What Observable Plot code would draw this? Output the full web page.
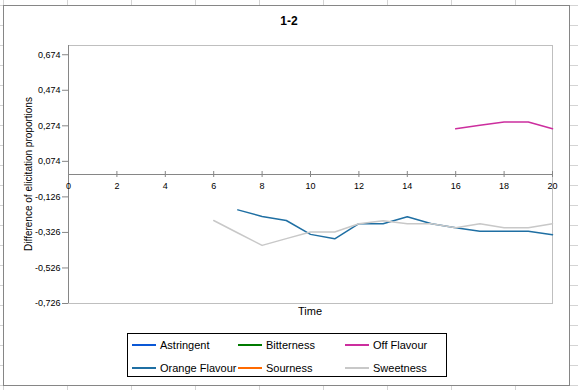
<!DOCTYPE html>
<html>
<head>
<meta charset="utf-8">
<script src="https://cdn.jsdelivr.net/npm/d3@7"></script>
<script src="https://cdn.jsdelivr.net/npm/@observablehq/plot@0.6"></script>
<style>
  html, body { margin: 0; padding: 0; }
  body {
    width: 578px; height: 390px; overflow: hidden;
    background-color: #fff;
    background-image: linear-gradient(to right, #d4d4d4 1px, transparent 1px),
                      linear-gradient(to bottom, #d4d4d4 1px, transparent 1px);
    background-size: 64px 100%, 100% 20px;
    background-position: 3px 0, 0 5px;
    font-family: "Liberation Sans", Arial, sans-serif;
  }
  #wrap { position: relative; width: 578px; height: 390px; }
  #card { position: absolute; left: 3px; top: 5px; width: 565px; height: 379px; background: #fff; border: 1px solid #868686; }
  #chart { position: absolute; left: 0; top: 0; }
  .t { position: absolute; white-space: nowrap; color: #000; }
  #title { left: 0; width: 578px; top: 14px; text-align: center; font-weight: bold; font-size: 12px; }
  #ylab { left: 28px; top: 174px; font-size: 10px; transform: translate(-50%, -50%) rotate(-90deg); }
  #xlab { left: 310px; top: 311px; font-size: 11px; transform: translate(-50%, -50%); }
  #legend { position: absolute; left: 127px; top: 333px; width: 318px; height: 42px; border: 1px solid #000; background: #fff; }
  .li { position: absolute; font-size: 11px; line-height: 12px; white-space: nowrap; width: 105px; height: 12px; }
  .li .sw { position: absolute; left: 0; top: 5px; width: 24px; height: 2px; }
  .li span.lab { position: absolute; left: 28px; top: 0; }
</style>
</head>
<body>
<div id="wrap">
  <div id="card"></div>
  <div id="chart"></div>
  <div class="t" id="title">1-2</div>
  <div class="t" id="ylab">Difference of elicitation proportions</div>
  <div class="t" id="xlab">Time</div>
  <div id="legend"></div>
</div>
<script>
// ---- data ----
const time = [0,1,2,3,4,5,6,7,8,9,10,11,12,13,14,15,16,17,18,19,20];
const seriesNames = ["Astringent", "Bitterness", "Off Flavour", "Orange Flavour", "Sourness", "Sweetness"];
const seriesColors = ["#0A58D6", "#007A00", "#CC2E9E", "#1F6FA3", "#FF6A00", "#C8C8C8"];
const astringent    = [null,null,null,null,null,null,null,null,null,null,null,null,null,null,null,null,null,null,null,null,null];
const bitterness    = [null,null,null,null,null,null,null,null,null,null,null,null,null,null,null,null,null,null,null,null,null];
const offFlavour    = [null,null,null,null,null,null,null,null,null,null,null,null,null,null,null,null,0.257,0.277,0.296,0.296,0.257];
const orangeFlavour = [null,null,null,null,null,null,null,-0.199,-0.236,-0.259,-0.337,-0.362,-0.277,-0.277,-0.238,-0.277,-0.300,-0.320,-0.320,-0.320,-0.339];
const sourness      = [null,null,null,null,null,null,null,null,null,null,null,null,null,null,null,null,null,null,null,null,null];
const sweetness     = [null,null,null,null,null,null,-0.259,-0.329,-0.399,-0.361,-0.324,-0.324,-0.277,-0.260,-0.277,-0.277,-0.300,-0.277,-0.300,-0.300,-0.277];
const xTicks = [0,2,4,6,8,10,12,14,16,18,20];
const yTicks = [-0.726,-0.526,-0.326,-0.126,0.074,0.274,0.474,0.674];
const yDomain = [-0.726, 0.726];

const allSeries = [astringent, bitterness, offFlavour, orangeFlavour, sourness, sweetness];
const rows = [];
allSeries.forEach((vals, i) => {
  time.forEach((t, j) => rows.push({series: seriesNames[i], t, v: vals[j]}));
});

const fmt = d => d.toFixed(3).replace(".", ",");
const W = 578, H = 390, mT = 45, mB = 87;
const unitsPerPx = (yDomain[1] - yDomain[0]) / (H - mT - mB);
const tickHalf = 3 * unitsPerPx;

const plot = Plot.plot({
  width: W, height: H,
  marginLeft: 68, marginRight: 26, marginTop: mT, marginBottom: mB,
  style: {background: "transparent", fontFamily: "Liberation Sans, Arial, sans-serif", fontSize: "9px", color: "#000"},
  x: {domain: [0, 20], axis: null},
  y: {domain: yDomain, axis: null},
  marks: [
    Plot.frame({stroke: "#BFBFBF"}),
    Plot.axisY(yTicks, {tickFormat: fmt, tickSize: 6, tickPadding: 2, stroke: "#868686", fill: "#000", fontSize: 9, label: null}),
    Plot.ruleX([0], {stroke: "#868686"}),
    Plot.ruleY([0], {stroke: "#868686"}),
    Plot.ruleX(xTicks, {x: d => d, y1: -tickHalf, y2: tickHalf, stroke: "#868686"}),
    Plot.text(xTicks, {x: d => d, y: 0, dy: 12, text: d => String(d), fill: "#000", fontSize: 9}),
    ...seriesNames.map((name, i) => Plot.line(rows.filter(r => r.series === name), {
      x: "t", y: "v", stroke: seriesColors[i], strokeWidth: 1.5
    }))
  ]
});
document.getElementById("chart").appendChild(plot);

// legend
const legend = document.getElementById("legend");
const colX = [4, 110, 217];
const rowY = [5, 28];
seriesNames.forEach((name, i) => {
  const el = document.createElement("div");
  el.className = "li";
  el.style.left = colX[i % 3] + "px";
  el.style.top = rowY[Math.floor(i / 3)] + "px";
  el.innerHTML = `<div class="sw" style="background:${seriesColors[i]}"></div><span class="lab">${name}</span>`;
  legend.appendChild(el);
});
</script>
</body>
</html>
